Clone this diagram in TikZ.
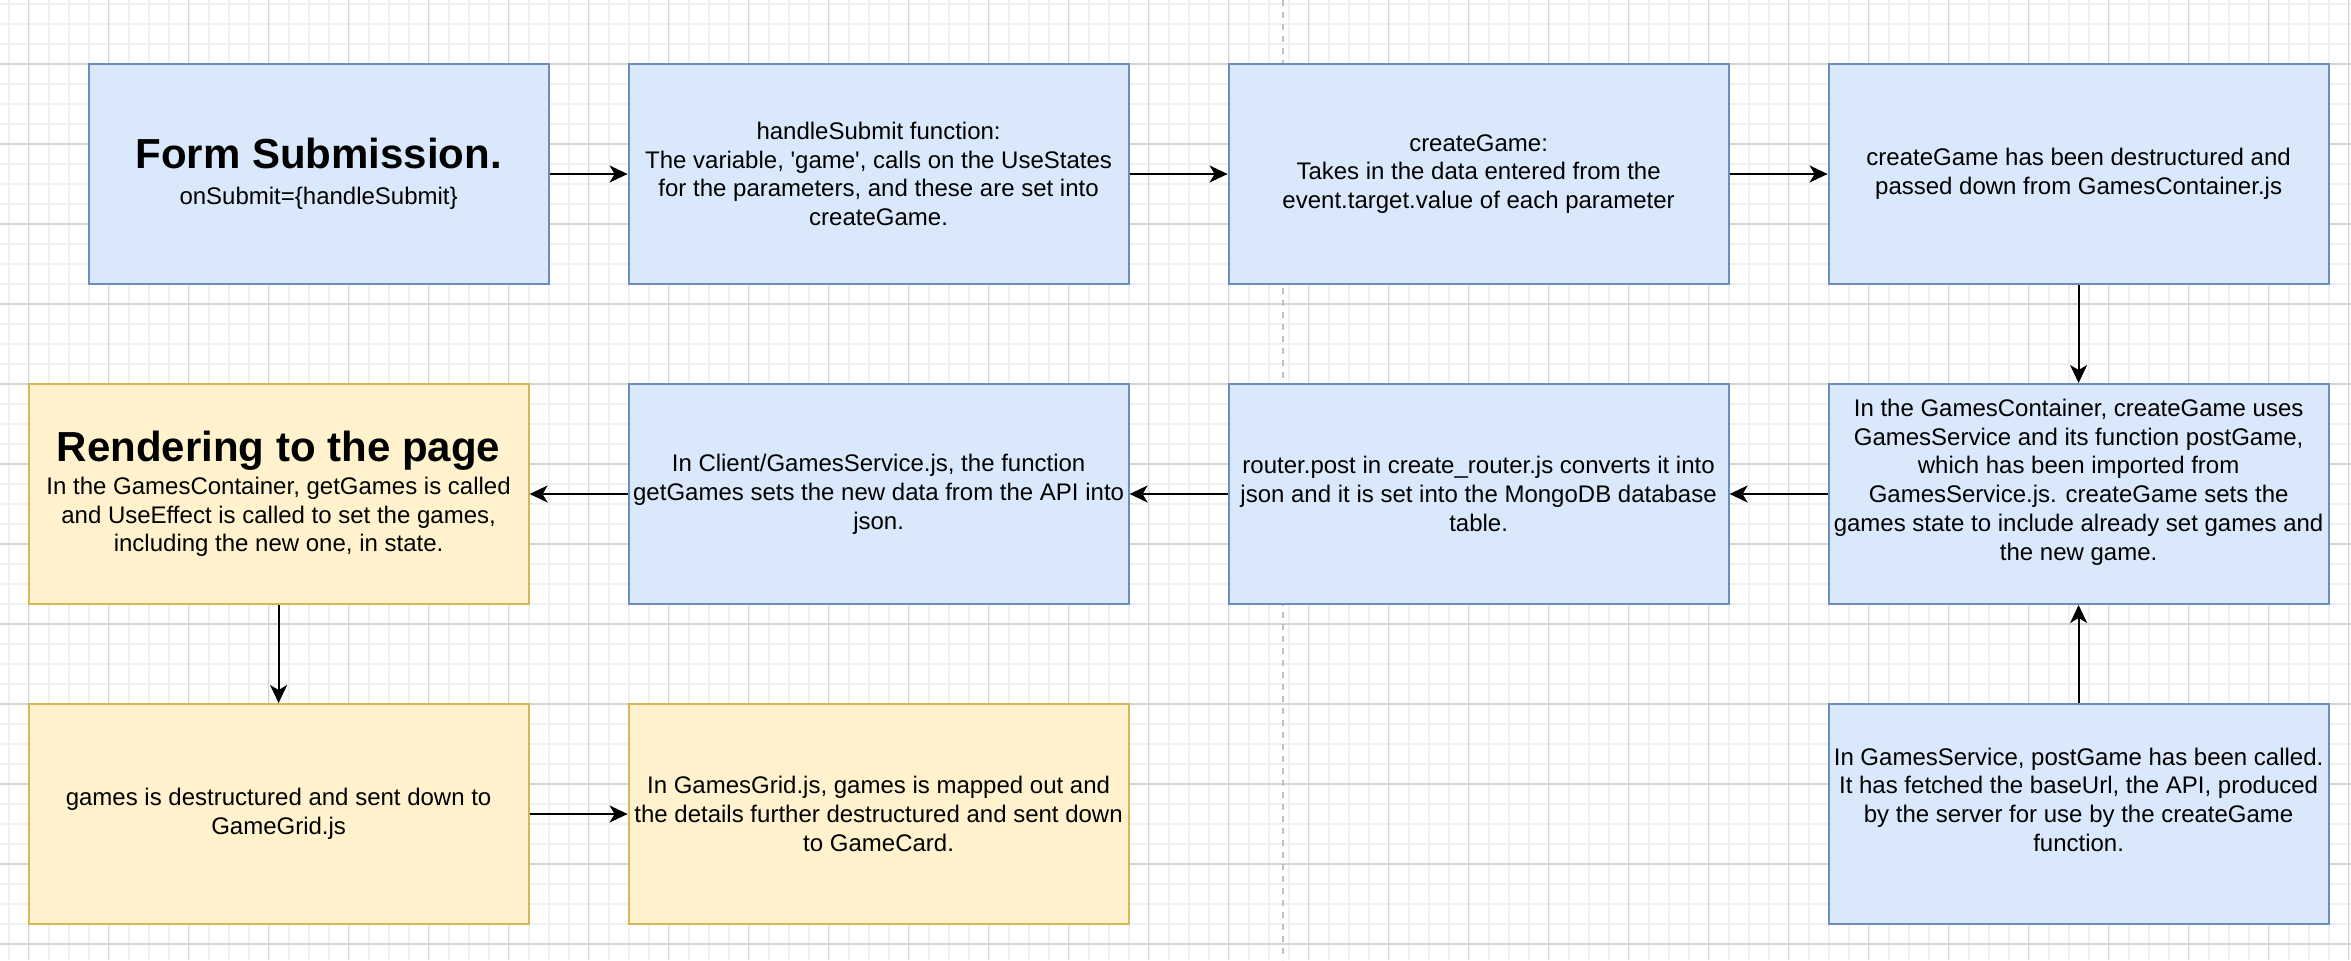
\documentclass[tikz,border=0pt]{standalone}
\usepackage{fontspec}
\setmainfont[Ligatures=TeXOff]{Liberation Sans}
\usetikzlibrary{arrows.meta}
\definecolor{bluefill}{HTML}{DAE8FC}
\definecolor{bluedraw}{HTML}{6C8EBF}
\definecolor{yelfill}{HTML}{FFF2CC}
\definecolor{yeldraw}{HTML}{D6B656}
\definecolor{gridminor}{HTML}{F0F0F0}
\definecolor{gridmajor}{HTML}{D6D6D6}
\definecolor{sepline}{HTML}{C0C0C0}
\newcommand{\ttlfont}{\fontsize{21}{25}\selectfont\bfseries}
\begin{document}
\begin{tikzpicture}[x=0.5pt,y=-0.5pt,
  box/.style={draw, line width=1pt, minimum width=250pt, minimum height=110pt,
    align=center, inner sep=0pt, font=\fontsize{12}{14.4}\selectfont},
  bluebox/.style={box, fill=bluefill, draw=bluedraw},
  yellowbox/.style={box, fill=yelfill, draw=yeldraw},
  flow/.style={-{Stealth[length=9pt,width=8.5pt,inset=2.5pt]}, line width=1pt, black},
  minorgrid/.style={gridminor, line width=1pt},
  majorgrid/.style={gridmajor, line width=0.6pt},
  sep/.style={sepline, line width=1pt, dash pattern=on 3pt off 3pt}]
\fill[white] (0,0) rectangle (2351,960);
\useasboundingbox (0,0) rectangle (2351,960);
% grid
\foreach \i in {0,...,117} \draw[minorgrid] ({8.6+20*\i},0) -- ({8.6+20*\i},960);
\foreach \j in {0,...,47} \draw[minorgrid] (0,{4+20*\j}) -- (2351,{4+20*\j});
\foreach \i in {0,...,29} \draw[majorgrid] ({28.6+80*\i},0) -- ({28.6+80*\i},960);
\foreach \j in {1,...,12} \draw[majorgrid] (0,{-16+80*\j}) -- (2351,{-16+80*\j});
% separator
\coordinate (septop) at (1283,0);
\coordinate (sepbot) at (1283,960);
\draw[sep] (septop) -- (sepbot);
% row 1
\node[bluebox, minimum width=230pt] (n1) at (318.6,174)
  {{\ttlfont Form Submission.}\\[3.5pt] onSubmit=\{handleSubmit\}};
\node[bluebox] (n2) at (878.6,174)
  {handleSubmit function:\\The variable, 'game', calls on the UseStates\\for the parameters, and these are set into\\createGame.};
\node[bluebox] (n3) at (1478.6,174)
  {createGame:\\Takes in the data entered from the\\event.target.value of each parameter};
\node[bluebox] (n4) at (2078.6,174)
  {createGame has been destructured and\\passed down from GamesContainer.js};
% row 2
\node[yellowbox] (nA) at (278.6,494)
  {{\ttlfont Rendering to the page}\\[2pt] In the GamesContainer, getGames is called\\and UseEffect is called to set the games,\\including the new one, in state.};
\node[bluebox] (nB) at (878.6,494)
  {In Client/GamesService.js, the function\\getGames sets the new data from the API into\\json.};
\node[bluebox] (nC) at (1478.6,494)
  {router.post in create\_router.js converts it into\\json and it is set into the MongoDB database\\table.};
\node[bluebox] (nD) at (2078.6,494)
  {In the GamesContainer, createGame uses\\GamesService and its function postGame,\\which has been imported from\\GamesService.js. createGame sets the\\games state to include already set games and\\the new game.\\ \mbox{}};
% row 3
\node[yellowbox] (nE) at (278.6,814)
  {games is destructured and sent down to\\GameGrid.js};
\node[yellowbox] (nF) at (878.6,814)
  {In GamesGrid.js, games is mapped out and\\the details further destructured and sent down\\to GameCard.};
\node[bluebox] (nG) at (2078.6,814)
  {In GamesService, postGame has been called.\\It has fetched the baseUrl, the API, produced\\by the server for use by the createGame\\function.\\ \mbox{}};
% connectors
\draw[flow] (n1) -- (n2);
\draw[flow] (n2) -- (n3);
\draw[flow] (n3) -- (n4);
\draw[flow] (n4) -- (nD);
\draw[flow] (nG) -- (nD);
\draw[flow] (nD) -- (nC);
\draw[flow] (nC) -- (nB);
\draw[flow] (nB) -- (nA);
\draw[flow] (nA) -- (nE);
\draw[flow] (nE) -- (nF);
\end{tikzpicture}
\end{document}
